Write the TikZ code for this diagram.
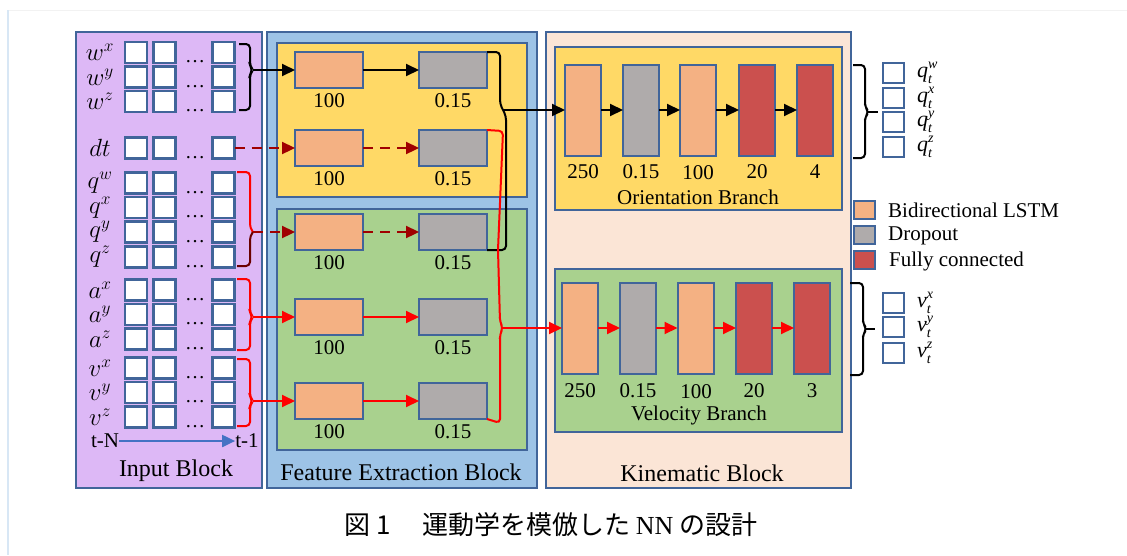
\documentclass[tikz,border=0pt]{standalone}
\usepackage{fontspec}
\setmainfont{Liberation Serif}
\newfontfamily\cjk{Noto Sans CJK JP}
\usetikzlibrary{arrows.meta}
\definecolor{bord}{HTML}{41659A}
\definecolor{lstmc}{HTML}{F4B183}
\definecolor{dropc}{HTML}{AFABAB}
\definecolor{fcc}{HTML}{CB504E}
\definecolor{yel}{HTML}{FFD966}
\definecolor{grn}{HTML}{A9D18E}
\definecolor{fblue}{HTML}{9DC3E6}
\definecolor{purp}{HTML}{DDB8F6}
\definecolor{kin}{HTML}{FBE5D6}
\definecolor{redc}{HTML}{FF0000}
\definecolor{dred}{HTML}{A00000}
\definecolor{ddred}{HTML}{6A0000}
\definecolor{arblue}{HTML}{4472C4}
\newcommand\olbl[3]{\textit{#1}\rlap{\raisebox{-0.28em}{\fontsize{14}{14}\selectfont\itshape #2}}\raisebox{0.40em}{\fontsize{14}{14}\selectfont\itshape #3}}
\begin{document}
\begin{tikzpicture}[x=1pt,y=-1pt,
  base/.style={draw=bord,line width=2pt,inner sep=0pt,outer sep=0pt},
  blk/.style={base},
  sq/.style={base,fill=white,minimum width=22pt,minimum height=21pt,line width=2.3pt},
  osq/.style={base,fill=white,minimum width=21pt,minimum height=20pt},
  lsq/.style={base,minimum width=21pt,minimum height=18pt},
  fbox/.style={base,minimum width=68pt,minimum height=36pt},
  kbox/.style={base,minimum width=36pt,minimum height=91pt},
  lstm/.style={fill=lstmc},
  drop/.style={fill=dropc},
  fcl/.style={fill=fcc},
  lab/.style={font=\fontsize{21}{24}\selectfont,inner sep=0pt},
  blab/.style={font=\fontsize{24}{28}\selectfont,inner sep=0pt},
  mlab/.style={font=\fontsize{24}{28}\selectfont,inner sep=0pt},
  olab/.style={font=\fontsize{22}{24}\selectfont,inner sep=0pt,anchor=west},
  brc/.style={line width=2pt,rounded corners=4pt},
  tipk/.style={-{Triangle[length=13pt,width=12pt]},line width=2pt},
  arK/.style={tipk,draw=black},
  arR/.style={tipk,draw=redc},
  arD/.style={tipk,draw=dred,dash pattern=on 10pt off 7pt,line width=2.3pt},
]
\useasboundingbox (0,0) rectangle (1127,555);
\fill[white] (0,0) rectangle (1127,555);
% faint frame
\draw[line width=1pt,draw=black!5] (8,10) -- (1127,10);
\draw[line width=2pt,draw=fblue!40] (8,10) -- (8,555);

% blocks
\node[blk,fill=purp,minimum width=186pt,minimum height=456pt] (inb) at (169,260) {};
\node[blk,fill=fblue,minimum width=270pt,minimum height=456pt] (feb) at (402,260) {};
\node[blk,fill=yel,minimum width=250pt,minimum height=154pt] (fey) at (402,120) {};
\node[blk,fill=grn,minimum width=250pt,minimum height=241pt] (feg) at (402,329.5) {};
\node[blk,fill=kin,minimum width=305pt,minimum height=456pt] (kib) at (698.5,260) {};
\node[blk,fill=yel,minimum width=287pt,minimum height=163pt] (orb) at (698.5,128.5) {};
\node[blk,fill=grn,minimum width=287pt,minimum height=163pt] (veb) at (698.5,350.5) {};

\node[blab] (inlab) at (176,471) {Input Block};
\node[blab] (felab) at (401,472) {Feature Extraction Block};
\node[blab] (kilab) at (702,473) {Kinematic Block};

% input rows
\foreach \n/\y/\t in {wx/52.5/w^{x},wy/77/w^{y},wz/101.5/w^{z},dt/148/dt,qw/183/q^{w},qx/207.5/q^{x},qy/232/q^{y},qz/257/q^{z},ax/290/a^{x},ay/314.5/a^{y},az/339/a^{z},vx/368/v^{x},vy/392.5/v^{y},vz/417/v^{z}}{
  \node[sq] (\n1) at (136,\y) {};
  \node[sq] (\n2) at (164.5,\y) {};
  \node[sq] (\n3) at (223.5,\y) {};
  \node[font=\fontsize{20}{22}\selectfont,inner sep=0pt,anchor=base] (\n d) at (195,\y+10) {…};
  \node[mlab] (\n l) at (100,\y) {$\t$};
}
\node[lab] (tN) at (105,441) {t-N};
\node[lab] (t1) at (247,441) {t-1};
\draw[-{Triangle[length=13pt,width=12pt]},line width=2pt,draw=arblue] (tN.east) -- (t1.west);

% input braces
\draw[brc] (239,44) -- (250,44) -- (250,66) -- (253,70) -- (250,74) -- (250,110) -- (239,110);
\coordinate (wtip) at (253,70);
\draw[brc,redc] (237,172) -- (250,172) -- (250,228) -- (253,232);
\draw[brc,ddred] (253,232) -- (250,236) -- (250,266) -- (237,266);
\coordinate (qtip) at (253,232);
\draw[brc,redc] (237,279) -- (250,279) -- (250,313) -- (253,317) -- (250,321) -- (250,350) -- (237,350);
\coordinate (atip) at (253,317);
\draw[brc,redc] (237,359) -- (250,359) -- (250,397) -- (253,401) -- (250,405) -- (250,426) -- (237,426);
\coordinate (vtip) at (253,401);

% feature extraction boxes
\foreach \i/\y in {1/70,2/148,3/232,4/317,5/401}{
  \node[fbox,lstm] (L\i) at (329,\y) {};
  \node[fbox,drop] (D\i) at (453,\y) {};
  \node[lab] (L\i l) at (329,\y+31) {100};
  \node[lab] (D\i l) at (453,\y+31) {0.15};
}
\draw[arK] (wtip) -- (L1.west);
\draw[arK] (L1.east) -- (D1.west);
\draw[arD] (dt3.east) -- (L2.west);
\draw[arD] (L2.east) -- (D2.west);
\draw[arD] (qtip) -- (L3.west);
\draw[arD] (L3.east) -- (D3.west);
\draw[arR] (atip) -- (L4.west);
\draw[arR] (L4.east) -- (D4.west);
\draw[arR] (vtip) -- (L5.west);
\draw[arR] (L5.east) -- (D5.west);

% feature right braces
\draw[brc] (D1.north east) -- (500,52) -- (500,104) -- (503,110) -- (506,116) -- (506,250) -- (D3.south east);
\coordinate (otip) at (503,110);
\draw[brc,redc] (D2.north east) -- (503,131) -- (498,250) -- (500,322) -- (503,328) -- (500,334) -- (500,423) -- (D5.south east);
\coordinate (rtip) at (503,328);

% orientation branch
\node[kbox,lstm] (O1) at (583,110) {};
\node[kbox,drop] (O2) at (641,110) {};
\node[kbox,lstm] (O3) at (698,110) {};
\node[kbox,fcl] (O4) at (757,110) {};
\node[kbox,fcl] (O5) at (815,110) {};
\node[lab] at (583,172) {250};
\node[lab] at (641,172) {0.15};
\node[lab] at (698,173) {100};
\node[lab] at (757,172) {20};
\node[lab] at (815,172) {4};
\node[lab] (orlab) at (698,197) {Orientation Branch};
\draw[arK] (otip) -- (O1.west);
\draw[arK] (O1.east) -- (O2.west);
\draw[arK] (O2.east) -- (O3.west);
\draw[arK] (O3.east) -- (O4.west);
\draw[arK] (O4.east) -- (O5.west);

% velocity branch
\node[kbox,lstm] (V1) at (580,328) {};
\node[kbox,drop] (V2) at (638,328) {};
\node[kbox,lstm] (V3) at (695.5,328) {};
\node[kbox,fcl] (V4) at (754,328) {};
\node[kbox,fcl] (V5) at (812,328) {};
\node[lab] at (580,391) {250};
\node[lab] at (638,391) {0.15};
\node[lab] at (696,392) {100};
\node[lab] at (754,391) {20};
\node[lab] at (812,391) {3};
\node[lab] (velab) at (699,415) {Velocity Branch};
\draw[arR] (rtip) -- (V1.west);
\draw[arR] (V1.east) -- (V2.west);
\draw[arR] (V2.east) -- (V3.west);
\draw[arR] (V3.east) -- (V4.west);
\draw[arR] (V4.east) -- (V5.west);

% output braces
\draw[brc] (853,65) -- (865,65) -- (865,107) -- (869,112) -- (865,117) -- (865,158) -- (853,158);
\draw[line width=2pt] (868,112) -- (878,112);
\draw[brc] (850,283) -- (863,283) -- (863,324) -- (867,329) -- (863,334) -- (863,375) -- (850,375);
\draw[line width=2pt] (866,329) -- (875,329);

% outputs
\foreach \n/\y/\a/\b in {qw/73/q/w,qx/98/q/x,qy/122/q/y,qz/147/q/z,vx/303/v/x,vy/327/v/y,vz/353/v/z}{
  \node[osq] (o\n) at (893.5,\y) {};
  \node[olab] (o\n l) at (917,\y) {\olbl{\a}{t}{\b}};
}

% legend
\node[lsq,lstm] (lg1) at (864.5,210) {};
\node[lsq,drop] (lg2) at (864.5,235) {};
\node[lsq,fcl] (lg3) at (864.5,260) {};
\node[lab,anchor=west] (lg1t) at (888,210) {Bidirectional LSTM};
\node[lab,anchor=west] (lg2t) at (888,236) {Dropout};
\node[lab,anchor=west] (lg3t) at (889,261) {Fully connected};

% caption
\node[inner sep=0pt] (cap) at (551,525) {\fontsize{26}{30}\selectfont\cjk 図 1\hspace{1.2em}運動学を模倣した {\rmfamily NN} の設計};
\end{tikzpicture}
\end{document}
